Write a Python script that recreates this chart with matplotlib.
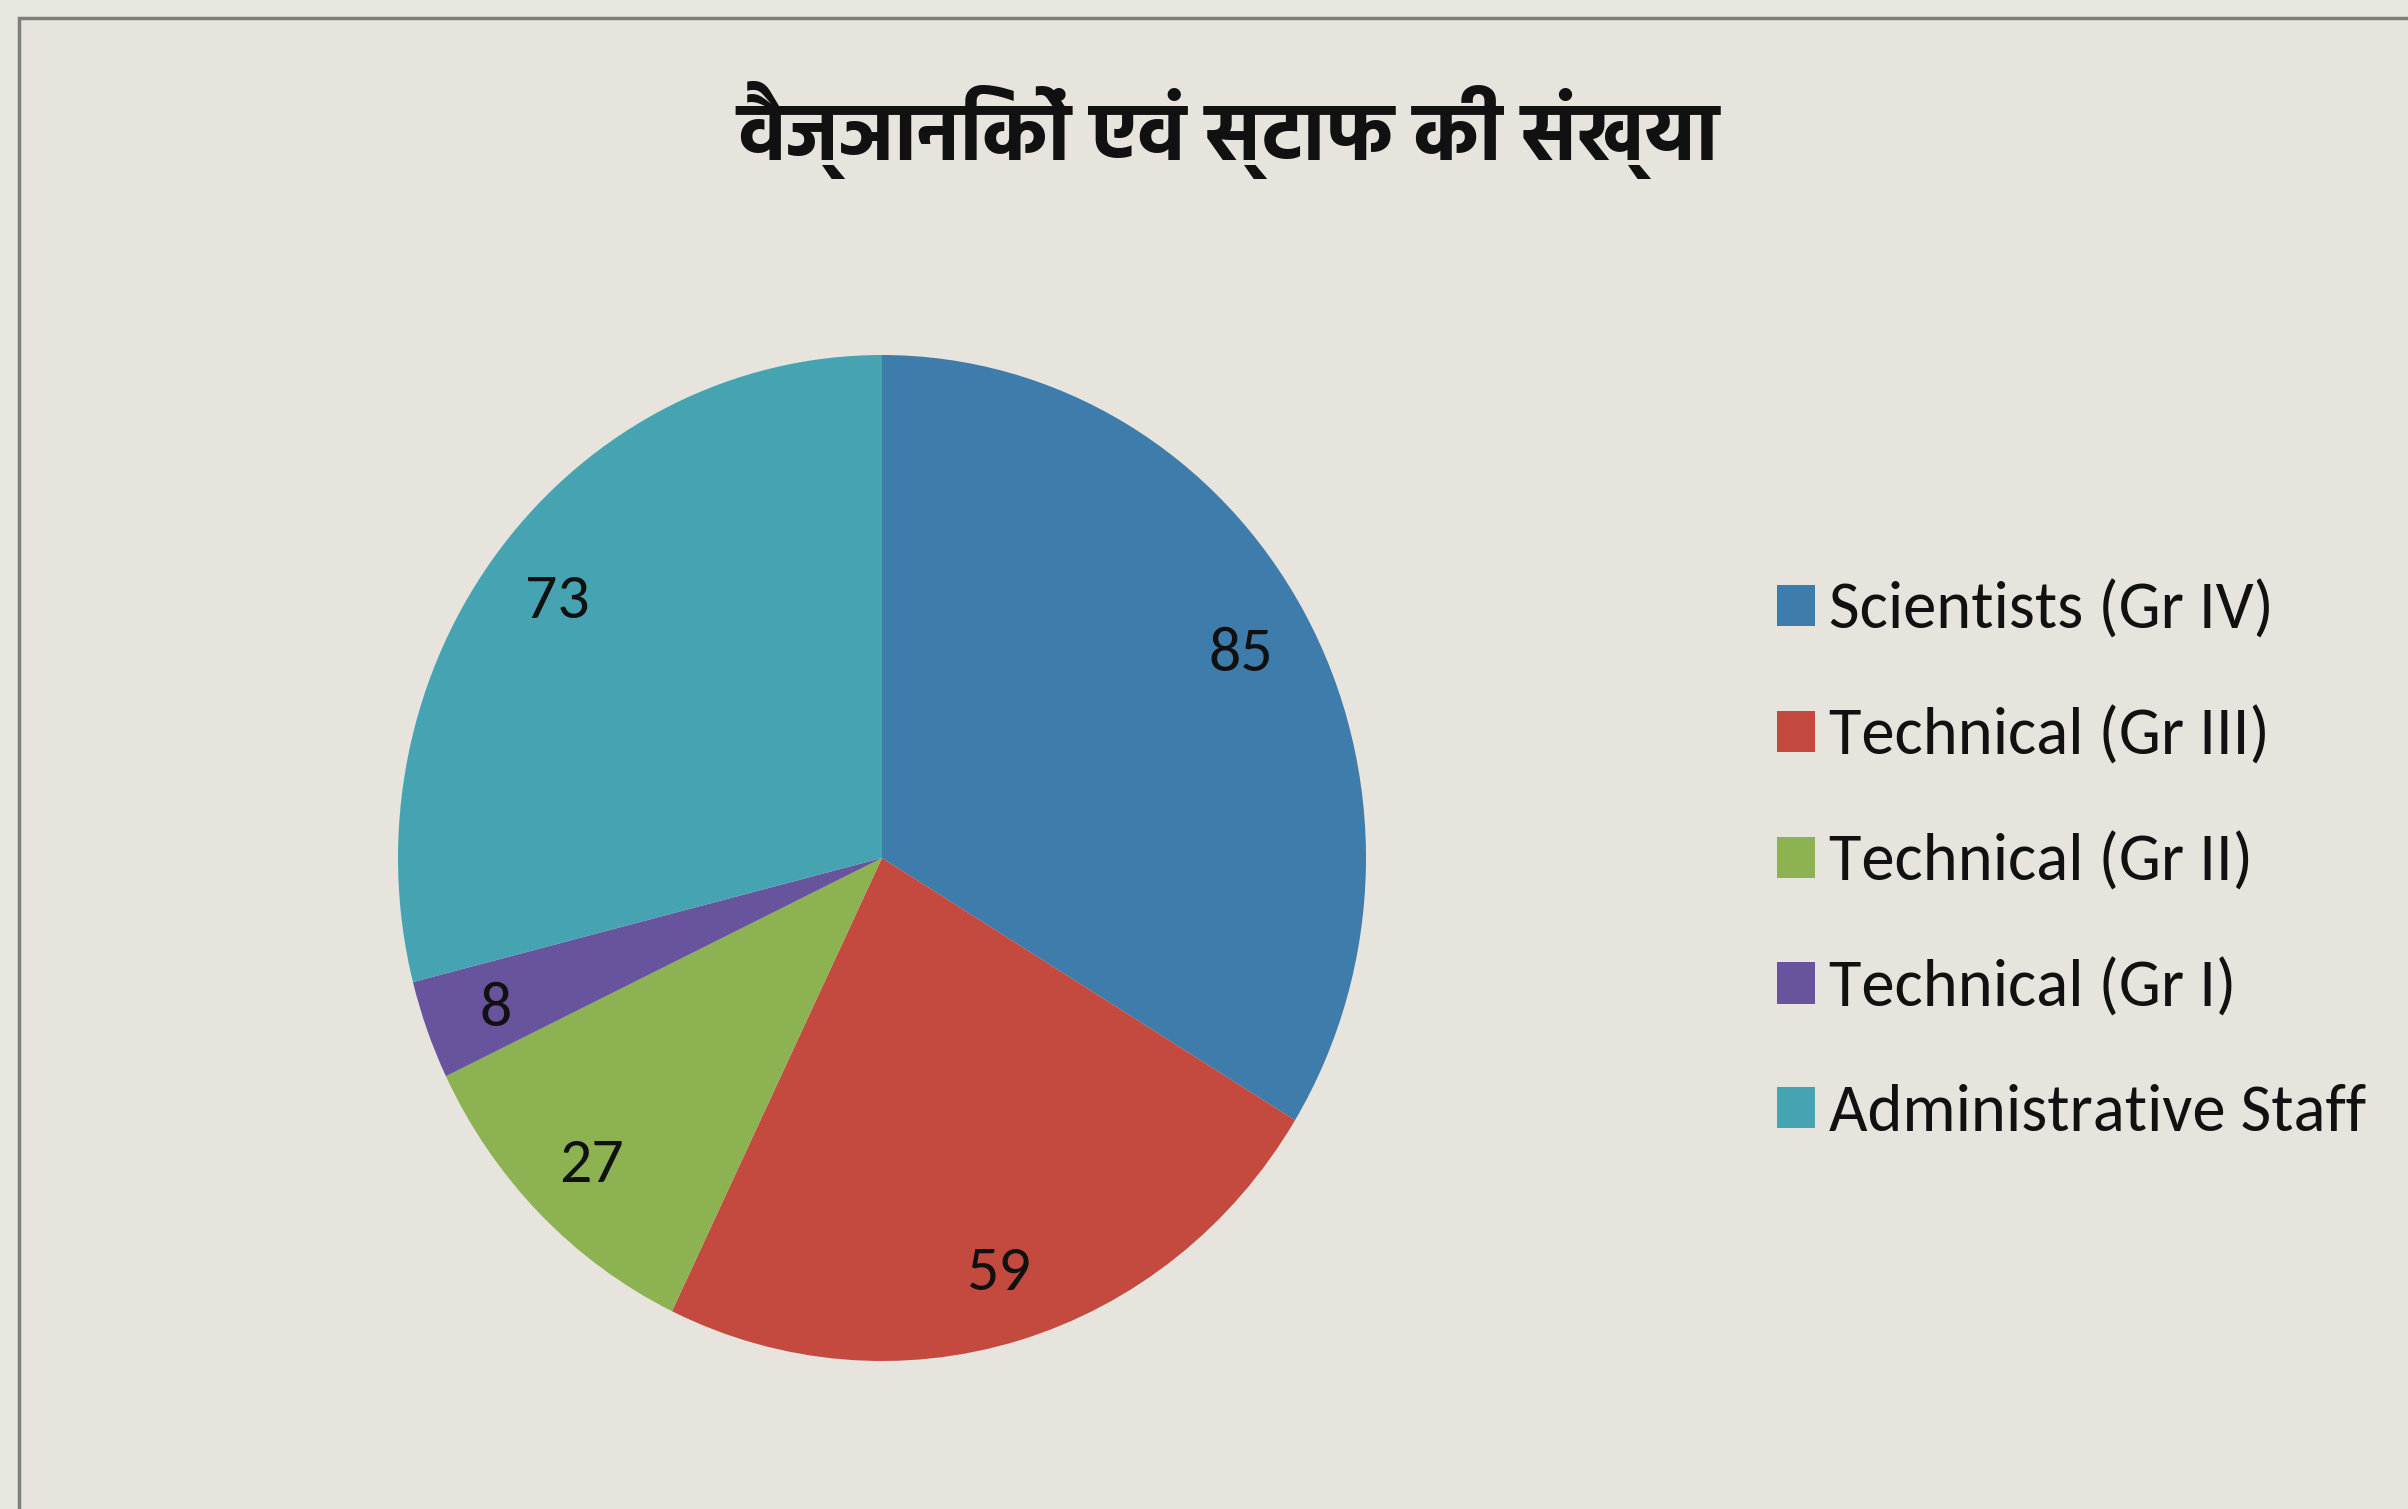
import matplotlib
matplotlib.use("Agg")
import matplotlib.pyplot as plt
from matplotlib import font_manager as fm
from matplotlib.patches import Patch, Rectangle

# data
title = "वैज्ञानिकों एवं स्टाफ की संख्या"
categories = ["Scientists (Gr IV)", "Technical (Gr III)", "Technical (Gr II)",
              "Technical (Gr I)", "Administrative Staff"]
counts = [85, 59, 27, 8, 73]
colors = ["#3E7CAC", "#C44A40", "#8CB252", "#68549C", "#46A4B2"]

available = set(f.name for f in fm.fontManager.ttflist)

def pick(cands, default="DejaVu Sans"):
    for c in cands:
        if c in available:
            return c
    return default

# a bold face with devanagari glyphs for the title, if one is there
deva_cands = ["Hind", "Mukta", "Noto Sans Devanagari", "Poppins"]
deva = pick(deva_cands)
deva_bold = None
for name in deva_cands:
    for f in fm.fontManager.ttflist:
        if f.name == name and f.weight in (700, "bold") and "[" not in f.fname:
            deva_bold = f.fname
            break
    if deva_bold:
        break
body = pick(["Carlito", "Lato", "Open Sans"])

W, H = 2408, 1509
fig = plt.figure(figsize=(W / 100, H / 100), dpi=100)
fig.patch.set_facecolor("#E6E7DF")

# chart area panel with the thin grey frame at top/left
panel = Rectangle((19 / W, -0.05), 1.1, (H - 18) / H + 0.05, transform=fig.transFigure,
                  facecolor="#E7E3DD", edgecolor="#7E7E7A", lw=2.5, zorder=-5)
fig.patches.append(panel)

# pie axes sized in pixels (slightly taller than wide, like the source)
cx, cy, rx, ry = 882, 858, 484, 503
ax = fig.add_axes([(cx - rx) / W, (H - cy - ry) / H, 2 * rx / W, 2 * ry / H])
ax.set_facecolor("none")
wedges, texts = ax.pie(counts, colors=colors, startangle=90, counterclock=False,
                       labels=[str(v) for v in counts], labeldistance=0.85,
                       wedgeprops=dict(linewidth=0))
for t in texts:
    t.set_ha("center")
    t.set_va("center_baseline")
    t.set_fontsize(46)
    t.set_family([body, "DejaVu Sans"])
    t.set_color("#111111")
ax.set_aspect("auto")
ax.set_xlim(-1, 1)
ax.set_ylim(-1, 1)

if deva_bold:
    tprops = dict(fontproperties=fm.FontProperties(fname=deva_bold, size=58))
else:
    tprops = dict(fontsize=56, fontweight="bold", family=[deva, "DejaVu Sans"])
fig.text(1228 / W, 1 - 130 / H, title, ha="center", va="center", color="#111111", **tprops)

handles = [Patch(facecolor=c, edgecolor="none") for c in colors]
leg = fig.legend(handles, categories, loc="upper left",
                 bbox_to_anchor=(1750 / W, 1 - 554 / H), frameon=False,
                 prop=dict(family=[body, "DejaVu Sans"], size=48),
                 handlelength=0.57, handleheight=0.57, handletextpad=0.22,
                 labelspacing=1.0, borderaxespad=0)
for t in leg.get_texts():
    t.set_color("#111111")

fig.savefig("out.png", dpi=100, facecolor=fig.get_facecolor())
